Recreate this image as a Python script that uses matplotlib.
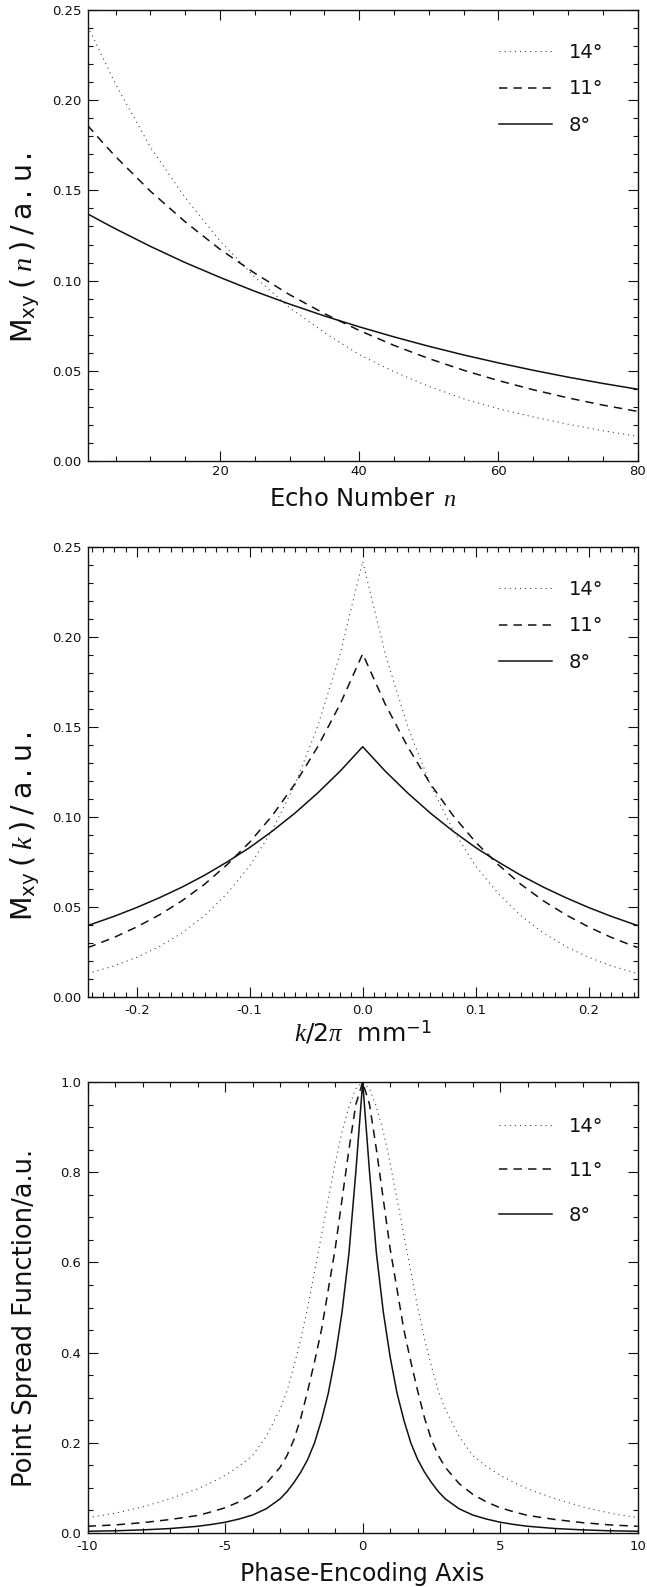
import matplotlib
matplotlib.use("Agg")
import matplotlib.pyplot as plt
from matplotlib.ticker import MultipleLocator, FormatStrFormatter, FixedLocator

plt.rcParams['font.family'] = ['DejaVu Sans']
plt.rcParams['axes.unicode_minus'] = False
plt.rcParams['mathtext.fontset'] = 'custom'
plt.rcParams['mathtext.rm'] = 'DejaVu Sans'
plt.rcParams['mathtext.it'] = 'Liberation Serif:italic'
plt.rcParams['mathtext.bf'] = 'DejaVu Sans:bold'

# ---------------- data ----------------
labels = ["14°", "11°", "8°"]

# Panel 1: signal vs echo number
echo_n = [1, 3, 5, 10, 15, 20, 25, 30, 35, 40, 45, 50, 55, 60, 65, 70, 75, 80]
mxy_n_14 = [0.241, 0.225, 0.209, 0.174, 0.146, 0.122, 0.102, 0.0850, 0.0712, 0.0590,
            0.0495, 0.0414, 0.0345, 0.0290, 0.0244, 0.0204, 0.0168, 0.0137]
mxy_n_11 = [0.186, 0.1772, 0.1688, 0.1496, 0.1326, 0.1174, 0.1041, 0.0922, 0.0817, 0.0724,
            0.0641, 0.0568, 0.0503, 0.0446, 0.0395, 0.0350, 0.0310, 0.0275]
mxy_n_08 = [0.137, 0.1328, 0.1287, 0.1190, 0.1100, 0.1018, 0.0941, 0.0870, 0.0804, 0.0744,
            0.0688, 0.0636, 0.0588, 0.0544, 0.0503, 0.0465, 0.0430, 0.0398]

# Panel 2: signal vs k
k_vals = [-0.2435, -0.24, -0.22, -0.20, -0.18, -0.16, -0.14, -0.12, -0.10, -0.08, -0.06, -0.04, -0.02,
          0.0, 0.02, 0.04, 0.06, 0.08, 0.10, 0.12, 0.14, 0.16, 0.18, 0.20, 0.22, 0.24, 0.2435]
mxy_k_14 = [0.0130, 0.0136, 0.0173, 0.0220, 0.0280, 0.0355, 0.0452, 0.0575, 0.0728, 0.0927, 0.1179, 0.1500, 0.1904,
            0.242, 0.1904, 0.1500, 0.1179, 0.0927, 0.0728, 0.0575, 0.0452, 0.0355, 0.0280, 0.0220, 0.0173, 0.0136, 0.0130]
mxy_k_11 = [0.0275, 0.0282, 0.0331, 0.0389, 0.0456, 0.0534, 0.0626, 0.0735, 0.0860, 0.1008, 0.1183, 0.1388, 0.1626,
            0.1906, 0.1626, 0.1388, 0.1183, 0.1008, 0.0860, 0.0735, 0.0626, 0.0534, 0.0456, 0.0389, 0.0331, 0.0282, 0.0275]
mxy_k_08 = [0.0397, 0.0404, 0.0448, 0.0497, 0.0551, 0.0610, 0.0676, 0.0750, 0.0830, 0.0921, 0.1021, 0.1132, 0.1254,
            0.139, 0.1254, 0.1132, 0.1021, 0.0921, 0.0830, 0.0750, 0.0676, 0.0610, 0.0551, 0.0497, 0.0448, 0.0404, 0.0397]

# Panel 3: point spread function
pe_axis = [-10, -9, -8, -7, -6, -5.5, -5, -4.5, -4, -3.5, -3, -2.75, -2.5, -2.25, -2, -1.75, -1.5, -1.25, -1,
           -0.75, -0.5, -0.25, 0, 0.25, 0.5, 0.75, 1, 1.25, 1.5, 1.75, 2, 2.25, 2.5, 2.75, 3, 3.5, 4,
           4.5, 5, 5.5, 6, 7, 8, 9, 10]
psf_14 = [0.034, 0.044, 0.058, 0.076, 0.098, 0.112, 0.128, 0.148, 0.172, 0.215, 0.275, 0.315, 0.37, 0.43, 0.50,
          0.58, 0.66, 0.74, 0.82, 0.89, 0.945, 0.985, 1.0, 0.985, 0.945, 0.89, 0.82, 0.74, 0.66, 0.58, 0.50,
          0.43, 0.37, 0.315, 0.275, 0.215, 0.172, 0.148, 0.128, 0.112, 0.098, 0.076, 0.058, 0.044, 0.034]
psf_11 = [0.015, 0.018, 0.023, 0.030, 0.039, 0.047, 0.056, 0.069, 0.086, 0.11, 0.146, 0.172, 0.207, 0.255, 0.315,
          0.38, 0.45, 0.54, 0.63, 0.74, 0.85, 0.95, 1.0, 0.95, 0.85, 0.74, 0.63, 0.54, 0.45, 0.38, 0.315,
          0.255, 0.207, 0.172, 0.146, 0.11, 0.086, 0.069, 0.056, 0.047, 0.039, 0.030, 0.023, 0.018, 0.015]
psf_08 = [0.004, 0.005, 0.007, 0.010, 0.015, 0.019, 0.024, 0.031, 0.040, 0.054, 0.076, 0.092, 0.112, 0.135, 0.163,
          0.20, 0.25, 0.31, 0.39, 0.49, 0.62, 0.80, 1.0, 0.80, 0.62, 0.49, 0.39, 0.31, 0.25, 0.20, 0.163,
          0.135, 0.112, 0.092, 0.076, 0.054, 0.040, 0.031, 0.024, 0.019, 0.015, 0.010, 0.007, 0.005, 0.004]

# ---------------- styles ----------------
styles = [
    dict(color='#444444', lw=0.8, dashes=(1.0, 3.6)),   # 14 deg dotted
    dict(color='#111111', lw=1.1, dashes=(5.5, 4.0)),   # 11 deg dashed
    dict(color='#111111', lw=1.1),                      # 8 deg solid
]

fig = plt.figure(figsize=(6.47, 15.87), dpi=100)
L, W = 0.1355, 0.8501
ax1 = fig.add_axes([L, 0.7095, W, 0.2842])
ax2 = fig.add_axes([L, 0.3718, W, 0.2836])
ax3 = fig.add_axes([L, 0.0340, W, 0.2842])

def style_axes(ax, xpad):
    for s in ax.spines.values():
        s.set_linewidth(1.0)
        s.set_color('#111111')
    ax.tick_params(which='both', direction='in', top=True, right=True, color='#111111',
                   labelsize=9.5, labelcolor='#111111')
    ax.tick_params(which='major', length=7.5, width=0.8)
    ax.tick_params(which='minor', length=3.3, width=0.8)
    ax.tick_params(axis='y', which='major', pad=4.5)
    ax.tick_params(axis='x', which='major', pad=xpad)

def add_legend(ax, handles, ytop, spacing):
    leg = ax.legend(handles=handles, loc='upper right', bbox_to_anchor=(0.937, ytop),
                    frameon=False, fontsize=14, handlelength=2.75, handletextpad=0.85,
                    labelspacing=spacing, borderpad=0, borderaxespad=0)
    for t in leg.get_texts():
        t.set_color('#111111')

def place_labels(ax, xy_x, xy_y):
    ax.xaxis.set_label_coords(0.5, xy_x)
    ax.xaxis.label.set_verticalalignment('center')
    ax.yaxis.set_label_coords(-0.114, xy_y)
    ax.yaxis.label.set_verticalalignment('center')
    ax.yaxis.label.set_horizontalalignment('center')

# Panel 1
series1 = [mxy_n_14, mxy_n_11, mxy_n_08]
h1 = []
for ys, st, lab in zip(series1, styles, labels):
    ln, = ax1.plot(echo_n, ys, label=lab, **st)
    h1.append(ln)
ax1.set_xlim(1, 80)
ax1.set_ylim(0, 0.25)
ax1.xaxis.set_major_locator(FixedLocator([20, 40, 60, 80]))
ax1.xaxis.set_minor_locator(MultipleLocator(5))
ax1.yaxis.set_major_locator(MultipleLocator(0.05))
ax1.yaxis.set_minor_locator(MultipleLocator(0.01))
ax1.yaxis.set_major_formatter(FormatStrFormatter('%.2f'))
style_axes(ax1, 3)
ax1.set_xlabel(r'Echo Number $\,n$', fontsize=17.5, color='#111111')
ax1.set_ylabel(r'$\mathrm{M}_{\mathrm{xy}}\;(\;n\;)\;/\;\mathrm{a\,.\,u\,.}$', fontsize=20.5, color='#111111')
place_labels(ax1, -0.085, 0.474)
add_legend(ax1, h1, 1 - 33 / 451, 0.9)

# Panel 2
series2 = [mxy_k_14, mxy_k_11, mxy_k_08]
h2 = []
for ys, st, lab in zip(series2, styles, labels):
    ln, = ax2.plot(k_vals, ys, label=lab, **st)
    h2.append(ln)
ax2.set_xlim(-0.2435, 0.2435)
ax2.set_ylim(0, 0.25)
ax2.xaxis.set_major_locator(MultipleLocator(0.1))
ax2.xaxis.set_minor_locator(MultipleLocator(0.01))
ax2.xaxis.set_major_formatter(FormatStrFormatter('%.1f'))
ax2.yaxis.set_major_locator(MultipleLocator(0.05))
ax2.yaxis.set_minor_locator(MultipleLocator(0.01))
ax2.yaxis.set_major_formatter(FormatStrFormatter('%.2f'))
style_axes(ax2, 5)
ax2.set_xlabel(r'$k$/2$\pi$  mm$^{-1}$', fontsize=18, color='#111111')
ax2.set_ylabel(r'$\mathrm{M}_{\mathrm{xy}}\;(\;k\;)\;/\;\mathrm{a\,.\,u\,.}$', fontsize=20.5, color='#111111')
place_labels(ax2, -0.078, 0.38)
add_legend(ax2, h2, 1 - 33 / 450, 0.9)

# Panel 3
series3 = [psf_14, psf_11, psf_08]
h3 = []
for ys, st, lab in zip(series3, styles, labels):
    ln, = ax3.plot(pe_axis, ys, label=lab, **st)
    h3.append(ln)
ax3.set_xlim(-10, 10)
ax3.set_ylim(0, 1.0)
ax3.xaxis.set_major_locator(MultipleLocator(5))
ax3.xaxis.set_minor_locator(MultipleLocator(1))
ax3.yaxis.set_major_locator(MultipleLocator(0.2))
ax3.yaxis.set_minor_locator(MultipleLocator(0.05))
ax3.yaxis.set_major_formatter(FormatStrFormatter('%.1f'))
style_axes(ax3, 5)
ax3.set_xlabel('Phase-Encoding Axis', fontsize=17, color='#111111')
ax3.set_ylabel('Point Spread Function/a.u.', fontsize=18.5, color='#111111')
place_labels(ax3, -0.091, 0.478)
add_legend(ax3, h3, 1 - 35 / 451, 1.3)

fig.savefig('out.png', dpi=100)
